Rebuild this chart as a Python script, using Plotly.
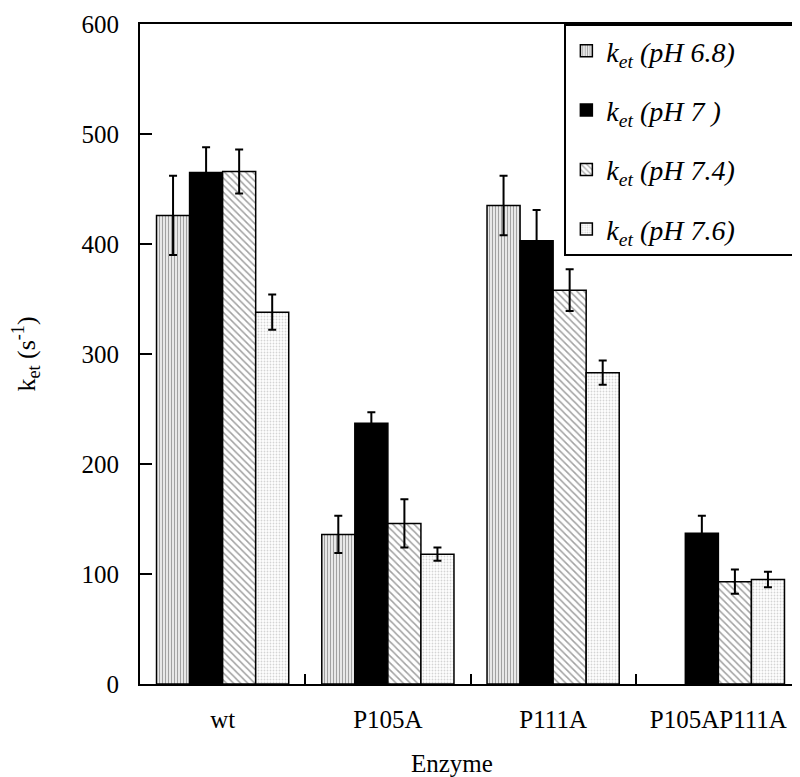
import plotly.graph_objects as go

enzymes = ["wt", "P105A", "P111A", "P105AP111A"]
series_names = ["<i>k<sub>et</sub> (pH 6.8)</i>" + "&nbsp;" * 9, "<i>k<sub>et</sub> (pH 7 )</i>",
                "<i>k<sub>et</sub> (pH 7.4)</i>", "<i>k<sub>et</sub> (pH 7.6)</i>"]
ph68 = [426, 136, 435, None]
ph68_err = [36, 17, 27, None]
ph70 = [465, 237, 403, 137]
ph70_err = [23, 10, 28, 16]
ph74 = [466, 146, 358, 93]
ph74_err = [20, 22, 19, 11]
ph76 = [338, 118, 283, 95]
ph76_err = [16, 6, 11, 7]

values = [ph68, ph70, ph74, ph76]
errors = [ph68_err, ph70_err, ph74_err, ph76_err]
patterns = [
    dict(shape="|", fgcolor="#444444", bgcolor="white", size=3, solidity=0.5),
    dict(shape="", fgcolor="black", bgcolor="black"),
    dict(shape="\\", fgcolor="#444444", bgcolor="white", size=5, solidity=0.3),
    dict(shape=".", fgcolor="#aaaaaa", bgcolor="white", size=3, solidity=0.3),
]
colors = ["white", "black", "white", "white"]

FONT = "Liberation Serif, Times New Roman, serif"

fig = go.Figure()
for i in range(4):
    fig.add_trace(go.Bar(
        x=enzymes, y=values[i], name=series_names[i],
        legendgroup=f"g{i}",
        marker=dict(color=colors[i], pattern=patterns[i],
                    line=dict(color="black", width=1.5)),
        error_y=dict(type="data", array=errors[i], color="black",
                     thickness=2, width=4, visible=True),
    ))

fig.update_layout(
    width=800, height=777,
    margin=dict(l=130, r=3, t=10, b=101),
    paper_bgcolor="white", plot_bgcolor="white",
    barmode="group", bargap=0.2, bargroupgap=0,
    font=dict(family=FONT, size=24, color="black"),
    showlegend=True,
    legend=dict(x=0.642, y=1, xanchor="left", yanchor="top",
                bgcolor="white", bordercolor="black", borderwidth=2,
                font=dict(family=FONT, size=28, color="black"),
                traceorder="grouped", tracegroupgap=20),
    xaxis=dict(
        showline=True, linecolor="black", linewidth=2, mirror=True,
        ticks="inside", ticklen=10, tickwidth=1.5, tickcolor="black",
        tickson="boundaries", ticklabelstandoff=12,
        tickfont=dict(family=FONT, size=25),
        showgrid=False,
    ),
    yaxis=dict(
        range=[0, 600], dtick=100,
        showline=True, linecolor="black", linewidth=2, mirror=True,
        ticks="inside", ticklen=12, tickwidth=1.5, tickcolor="black",
        ticklabelstandoff=14, ticklabeloverflow="allow",
        tickfont=dict(family=FONT, size=25),
        showgrid=False, zeroline=False,
        title=dict(text="k<sub>et</sub> (s<sup>-1</sup>)",
                   font=dict(family=FONT, size=26), standoff=52),
    ),
    annotations=[dict(text="Enzyme", xref="paper", yref="paper",
                      x=0.472, y=-0.12, xanchor="center", yanchor="middle",
                      showarrow=False, font=dict(family=FONT, size=25))],
)

fig.write_html("out.html")
